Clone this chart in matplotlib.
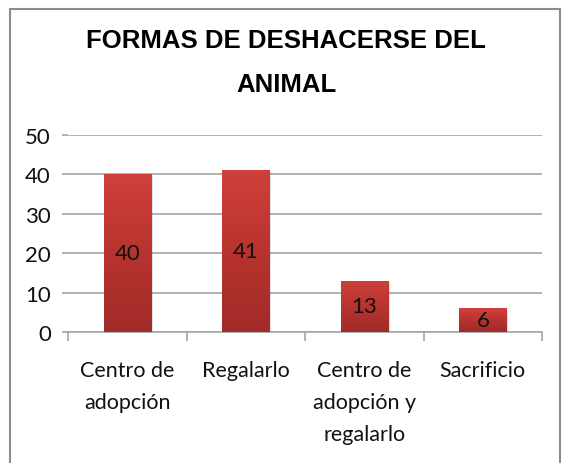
import numpy as np
import matplotlib
matplotlib.use("Agg")
import matplotlib.pyplot as plt
from matplotlib.patches import Rectangle
from matplotlib.colors import LinearSegmentedColormap

categories = ["Centro de\nadopción", "Regalarlo", "Centro de\nadopción y\nregalarlo", "Sacrificio"]
values = [40, 41, 13, 6]
yticks = [0, 10, 20, 30, 40, 50]
title = "FORMAS DE DESHACERSE DEL\nANIMAL"

body_font = ["Lato", "DejaVu Sans"]
FS = 16

W, H = 565, 464
fig = plt.figure(figsize=(W / 100, H / 100), dpi=100)

# chart border
fig.patches.append(Rectangle((10 / W, -0.1), 550 / W, 1.1 - 10 / H, transform=fig.transFigure,
                             fill=False, edgecolor="#8c8c8c", linewidth=1.5))

ax = fig.add_axes([68 / W, 1 - 333 / H, (542 - 68) / W, (333 - 136) / H])
x = np.arange(len(values))

cmap = LinearSegmentedColormap.from_list("bar", ["#a12b29", "#b8332f", "#d0403c"])
grad = np.linspace(0, 1, 256).reshape(-1, 1)
bars = ax.bar(x, values, width=0.4, color="#c0392f", zorder=3)
for b in bars:
    x0, w, h = b.get_x(), b.get_width(), b.get_height()
    ax.add_patch(Rectangle((x0 + 0.015, -0.3), w, h, color="#000000", alpha=0.12, zorder=2, lw=0))
    im = ax.imshow(grad, cmap=cmap, origin="lower", aspect="auto",
                   extent=(x0, x0 + w, 0, h), zorder=4)
    im.set_clip_path(b)
ax.set_xlim(-0.5, len(values) - 0.5)
ax.set_ylim(0, 50)

for xi, v in zip(x, values):
    ax.text(xi, v / 2, str(v), ha="center", va="center", fontsize=FS,
            family=body_font, color="#111111", zorder=5)

ax.set_yticks(yticks)
ax.set_yticklabels([str(t) for t in yticks], family=body_font, fontsize=FS, color="#111111")
ax.yaxis.grid(True, color="#a6a6a6", linewidth=1.2, zorder=0)
ax.set_axisbelow(True)
ax.tick_params(axis="y", length=4.3, color="#a6a6a6", width=1.2, pad=8)

ax.set_xticks(np.arange(-0.5, len(values)))
ax.set_xticklabels([])
ax.tick_params(axis="x", length=6.5, color="#a6a6a6", width=1.2, direction="out")
for xi, c in zip(x, categories):
    ax.text(xi, -7.2, c, ha="center", va="top", fontsize=15.5, family=body_font,
            color="#111111", linespacing=1.75, transform=ax.transData)

for s in ["top", "right", "left"]:
    ax.spines[s].set_visible(False)
ax.spines["bottom"].set_color("#a6a6a6")
ax.spines["bottom"].set_linewidth(1.2)

fig.text(286 / W, 1 - 63 / H, title, ha="center", va="center", fontsize=18.5,
         fontweight="bold", family="Liberation Sans", linespacing=2.05)

fig.savefig("out.png", dpi=100, facecolor="white")
